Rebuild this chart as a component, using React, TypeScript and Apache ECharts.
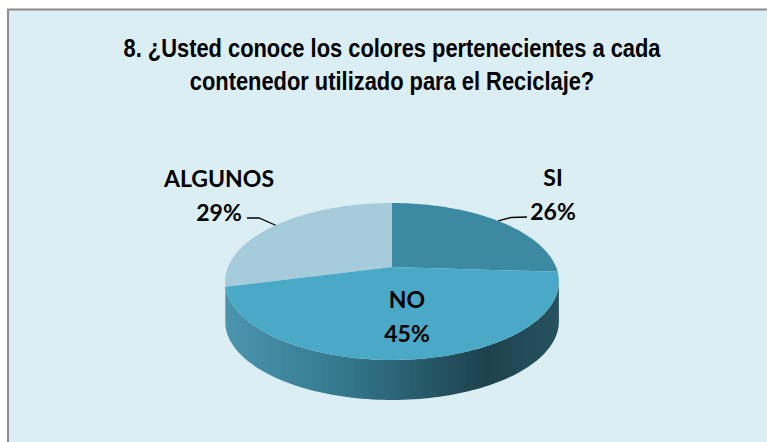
import React, { useEffect, useRef } from "react";
import * as echarts from "echarts";

const categories = ["SI", "NO", "ALGUNOS"];
const values = [26, 45, 29];
const percentLabels = ["26%", "45%", "29%"];
const sliceColors = ["#3b8aa2", "#49a9c6", "#a6cbdb"];
const titleLines = [
  "8. ¿Usted conoce los colores pertenecientes a cada",
  "contenedor utilizado para el Reciclaje?",
];

// Pie geometry: a circle seen in perspective, with its apex off the ellipse centre.
const APEX_X = 392;
const APEX_Y = 267;
const PERSPECTIVE = -0.1847;
const SCALE_X = 164;
const SCALE_Y = 75.8;
const DEPTH = 40;
const FRONT_START = Math.acos(PERSPECTIVE);
const FRONT_END = 2 * Math.PI - FRONT_START;

const rim = (theta: number, r = 1): [number, number] => {
  const u = r * Math.sin(theta);
  const v = -r * Math.cos(theta);
  const w = 1 + PERSPECTIVE * v;
  return [APEX_X + (SCALE_X * u) / w, APEX_Y + (SCALE_Y * v) / w];
};

const arcPoints = (a: number, b: number) => {
  const n = Math.max(2, Math.ceil(((b - a) / (2 * Math.PI)) * 240));
  const pts: [number, number][] = [];
  for (let i = 0; i <= n; i++) pts.push(rim(a + ((b - a) * i) / n));
  return pts;
};

// Label centres: [name line, percent line]; leader: label-side end and elbow.
const labelPos: [number, number][] = [
  [553, 177],
  [407, 299],
  [219, 178],
];
const labelLineGap = 34;
const leaders: ([number, number][] | null)[] = [
  [[527, 217], [511, 217.5]],
  null,
  [[247, 218], [259, 218]],
];

const total = values.reduce((s, v) => s + v, 0);
const sideGradient = {
  type: "linear",
  x: 226,
  y: 0,
  x2: 559,
  y2: 0,
  global: true,
  colorStops: [
    { offset: 0, color: "#4b95ae" },
    { offset: 0.35, color: "#34788d" },
    { offset: 0.78, color: "#1d424e" },
    { offset: 1, color: "#27525f" },
  ],
};

const renderItem = (params: any, api: any) => {
  const i = params.dataIndex;
  const before = values.slice(0, i).reduce((s, v) => s + v, 0);
  const a = (before / total) * 2 * Math.PI;
  const b = ((before + api.value(0)) / total) * 2 * Math.PI;
  const children: any[] = [];

  const sa = Math.max(a, FRONT_START);
  const sb = Math.min(b, FRONT_END);
  if (sb > sa) {
    const front = arcPoints(sa, sb);
    const lower = front.map(([x, y]) => [x, y + DEPTH]).reverse();
    children.push({
      type: "polygon",
      z2: 1,
      shape: { points: [...front, ...lower] },
      style: { fill: sideGradient },
    });
  }
  children.push({
    type: "polygon",
    z2: 2 + (i === 1 ? 1 : 0),
    shape: { points: [[APEX_X, APEX_Y], ...arcPoints(a, b)] },
    style: { fill: sliceColors[i] },
  });

  const leader = leaders[i];
  if (leader) {
    children.push({
      type: "polyline",
      z2: 5,
      shape: { points: [...leader, rim((a + b) / 2)] },
      style: { stroke: "#000", lineWidth: 1.3, fill: "none" },
    });
  }
  const [lx, ly] = labelPos[i];
  [categories[i], percentLabels[i]].forEach((text, k) => {
    children.push({
      type: "text",
      z2: 6,
      x: lx,
      y: ly + k * labelLineGap,
      style: {
        text,
        fill: "#000",
        font: 'bold 23px Lato, "Noto Sans", sans-serif',
        align: "center",
        verticalAlign: "middle",
      },
    });
  });
  return { type: "group", children };
};

export default function App() {
  const ref = useRef<HTMLDivElement>(null);
  useEffect(() => {
    const chart = echarts.init(ref.current!, undefined, { renderer: "svg" });
    chart.setOption({
      animation: false,
      backgroundColor: "#ffffff",
      graphic: [
        {
          type: "rect",
          z: 0,
          shape: { x: 8, y: 9.5, width: 770, height: 450 },
          style: { fill: "#dbeef4", stroke: "#8c8c8c", lineWidth: 2 },
        },
        ...titleLines.map((text, k) => ({
          type: "text",
          z: 5,
          x: 392,
          y: 48 + k * 33,
          scaleX: 0.875,
          style: {
            text,
            fill: "#000",
            font: 'bold 25px "Liberation Sans", Arial, sans-serif',
            align: "center",
            verticalAlign: "middle",
          },
        })),
      ],
      series: [
        {
          type: "custom",
          coordinateSystem: "none",
          renderItem,
          data: values.map((v, i) => ({ name: categories[i], value: [v] })),
          silent: true,
          clip: false,
        },
      ],
    });
    return () => chart.dispose();
  }, []);
  return (
    <div
      ref={ref}
      style={{ position: "fixed", left: 0, top: 0, width: 767, height: 442 }}
    />
  );
}
